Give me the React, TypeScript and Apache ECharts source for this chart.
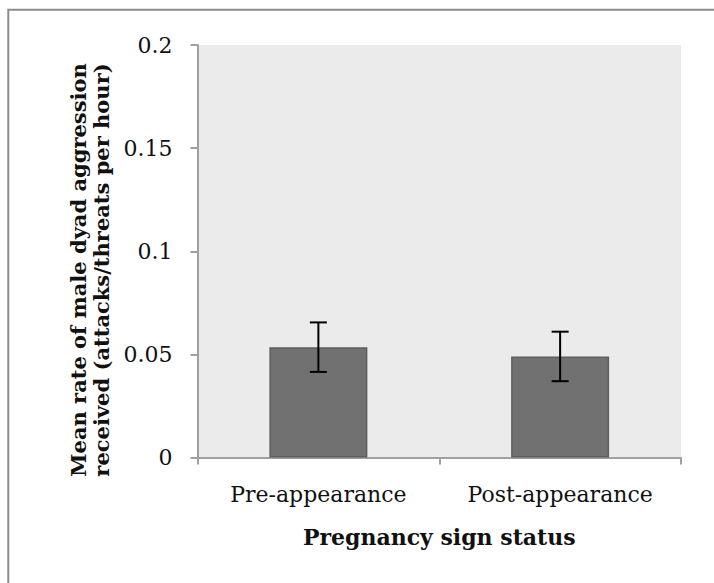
import React, { useEffect, useRef } from "react";
import * as echarts from "echarts";

const categories = ["Pre-appearance", "Post-appearance"];
const meanRates = [0.0535, 0.049];
const errors = [0.012, 0.012];
const yTicks = [0, 0.05, 0.1, 0.15, 0.2];
const xTitle = "Pregnancy sign status";
const yTitleLines = ["Mean rate of male dyad aggression", "received (attacks/threats per hour)"];

export default function App() {
  const ref = useRef<HTMLDivElement>(null);
  useEffect(() => {
    if (!ref.current) return;
    const chart = echarts.init(ref.current, null, { renderer: "svg" });
    const serif = "DejaVu Serif";
    chart.setOption({
      animation: false,
      backgroundColor: "#ffffff",
      grid: { left: 197.5, right: 33, top: 45, bottom: 125.5, show: true, backgroundColor: "#ebebeb", borderWidth: 0 },
      xAxis: {
        type: "category",
        data: categories,
        axisLine: { show: true, lineStyle: { color: "#a0a0a0", width: 2 } },
        axisTick: { show: true, length: 7, lineStyle: { color: "#a0a0a0", width: 2 } },
        axisLabel: { color: "#111", fontFamily: serif, fontSize: 22, margin: 26 },
        name: xTitle,
        nameLocation: "middle",
        nameGap: 68,
        nameTextStyle: { color: "#111", fontFamily: serif, fontSize: 22, fontWeight: "bold" },
      },
      yAxis: {
        type: "value",
        min: yTicks[0],
        max: yTicks[yTicks.length - 1],
        interval: 0.05,
        axisLine: { show: true, lineStyle: { color: "#a0a0a0", width: 2 } },
        axisTick: { show: true, length: 7, lineStyle: { color: "#a0a0a0", width: 2 } },
        splitLine: { show: false },
        axisLabel: {
          color: "#111",
          fontFamily: serif,
          fontSize: 22,
          margin: 25,
          formatter: (v: number) => String(Math.round(v * 100) / 100),
        },
      },
      graphic: [
        {
          type: "rect",
          shape: { x: 8.3, y: 9.8, width: 760, height: 640 },
          style: { fill: "none", stroke: "#8c8c8c", lineWidth: 2 },
          silent: true,
          z: -10,
        },
        {
          type: "text",
          x: 90,
          y: 270,
          rotation: Math.PI / 2,
          style: {
            text: yTitleLines.join("\n"),
            fontFamily: serif,
            fontSize: 21,
            fontWeight: "bold",
            fill: "#111",
            align: "center",
            verticalAlign: "middle",
            lineHeight: 23,
          },
        },
      ],
      series: [
        {
          type: "bar",
          data: meanRates,
          barWidth: 98,
          itemStyle: { color: "#717171", borderColor: "#5e5e5e", borderWidth: 1.5 },
          z: 2,
        },
        {
          type: "custom",
          z: 5,
          data: meanRates.map((m, i) => [i, m - errors[i], m + errors[i]]),
          renderItem: (params: any, api: any) => {
            const x = api.value(0);
            const lo = api.coord([x, api.value(1)]);
            const hi = api.coord([x, api.value(2)]);
            const half = 8.5;
            const style = { stroke: "#000", lineWidth: 2 };
            return {
              type: "group",
              children: [
                { type: "line", shape: { x1: lo[0], y1: lo[1], x2: hi[0], y2: hi[1] }, style },
                { type: "line", shape: { x1: hi[0] - half, y1: hi[1], x2: hi[0] + half, y2: hi[1] }, style },
                { type: "line", shape: { x1: lo[0] - half, y1: lo[1], x2: lo[0] + half, y2: lo[1] }, style },
              ],
            };
          },
        },
      ],
    });
    return () => chart.dispose();
  }, []);
  return <div ref={ref} style={{ position: "fixed", left: 0, top: 0, width: 714, height: 583 }} />;
}
